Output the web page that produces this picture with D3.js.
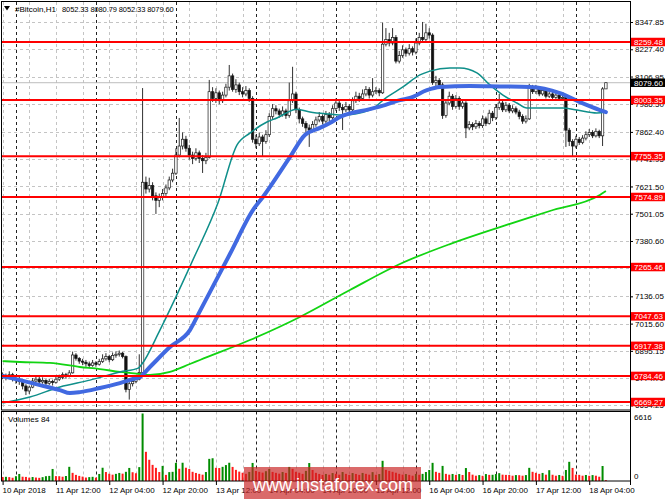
<!DOCTYPE html>
<html><head><meta charset="utf-8">
<script src="https://cdn.jsdelivr.net/npm/d3@7"></script>
<style>
html,body{margin:0;padding:0;background:#fff;}
svg{display:block;font-family:"Liberation Sans",Arial,sans-serif;}
</style></head><body>
<svg id="c" width="665" height="499"></svg>
<script>
// ---- DATA (Bitcoin H1, bars from 10 Apr 2018 20:00) ----
const opens = [6790,6785,6778,6790,6772,6768,6760,6740,6718,6735,
 6762,6770,6758,6765,6752,6760,6755,6770,6778,6790,
 6782,6798,6877,6862,6850,6845,6838,6830,6842,6836,
 6848,6860,6870,6856,6875,6880,6885,6870,6725,6750,
 6760,6770,6800,7640,7610,7625,7580,7560,7575,7590,
 7615,7650,7680,7760,7800,7830,7790,7760,7745,7770,
 7745,7735,7750,8040,8010,8035,8000,8025,8060,8110,
 8050,8070,8040,8030,8045,8010,7830,7810,7840,7820,
 7850,7930,7965,7955,7940,7955,7935,8000,8030,7960,
 7920,7900,7880,7870,7895,7915,7930,7910,7940,7925,
 7965,7990,7970,7960,7975,7960,8000,8020,8010,8030,
 8050,8025,8040,8045,8035,8250,8270,8255,8280,8175,
 8200,8225,8210,8230,8215,8255,8280,8270,8300,8290,
 8080,8090,8070,7935,7990,8020,7975,8010,7975,7990,
 7880,7895,7885,7900,7890,7920,7900,7945,7925,7970,
 7990,7960,7980,7955,7965,7950,7930,7910,7920,8060,
 8040,8055,8030,8045,8020,8030,8015,8025,8010,8015,
 7870,7820,7800,7830,7815,7835,7850,7860,7845,7865,
 7845,8052.33];
const highs = [6800,6795,6805,6798,6785,6780,6765,6748,6742,6775,
 6785,6780,6778,6770,6772,6768,6782,6790,6800,6798,
 6810,6892,6885,6868,6860,6855,6848,6855,6850,6860,
 6880,6885,6878,6888,6893,6897,6890,6875,6760,6772,
 6785,6880,8056,7665,7660,7640,7595,7590,7610,7630,
 7665,7700,7790,7924,7860,7845,7805,7775,7790,7780,
 7760,7770,8092,8060,8055,8045,8040,8075,8158,8120,
 8095,8080,8060,8065,8055,8020,7850,7860,7850,7870,
 7945,7985,7980,7965,7975,7965,8080,8150,8040,7970,
 7930,7910,7895,7910,7930,7950,7940,7955,7950,7980,
 8010,8000,7985,7995,7985,8015,8040,8035,8050,8065,
 8060,8100,8060,8055,8345,8321,8300,8321,8290,8220,
 8245,8235,8250,8240,8275,8300,8348,8340,8320,8298,
 8110,8100,8080,8005,8040,8030,8025,8020,8005,7998,
 7910,7905,7915,7910,7935,7930,7960,7955,7985,8030,
 8000,7995,7990,7980,7975,7960,7940,7935,8075,8070,
 8070,8062,8060,8052,8045,8040,8038,8032,8030,8020,
 7880,7830,7845,7840,7848,7865,7875,7870,7878,7872,
 8060,8080.79];
const lows = [6770,6765,6770,6760,6750,6745,6725,6700,6705,6730,
 6755,6745,6750,6740,6745,6742,6750,6762,6770,6772,
 6778,6795,6852,6838,6832,6825,6818,6825,6825,6830,
 6842,6852,6845,6850,6865,6870,6862,6712,6680,6738,
 6752,6765,6790,7590,7595,7560,7500,7530,7560,7580,
 7605,7640,7672,7750,7785,7775,7740,7720,7735,7725,
 7681,7720,7745,7995,7990,7985,7990,8015,8045,8040,
 8035,8025,8015,8020,7995,7815,7790,7800,7752,7810,
 7840,7920,7940,7925,7930,7920,7925,7990,7945,7900,
 7885,7860,7796,7860,7885,7905,7895,7900,7910,7915,
 7955,7955,7871,7950,7945,7950,7990,7995,8000,8020,
 8010,8015,8030,8020,8030,8240,8240,8245,8165,8165,
 8190,8195,8200,8200,8205,8245,8260,8262,8275,8070,
 8065,8055,7920,7925,7980,7960,7965,7960,7965,7835,
 7870,7870,7875,7878,7880,7888,7895,7910,7915,7960,
 7950,7950,7945,7945,7940,7918,7898,7900,7915,8030,
 8030,8020,8022,8010,8012,8005,8008,8000,8000,7796,
 7800,7752,7790,7805,7808,7825,7840,7835,7838,7835,
 7800,8052.33];
const closes = [6785,6778,6790,6772,6768,6760,6740,6718,6735,6762,
 6770,6758,6765,6752,6760,6755,6770,6778,6790,6782,
 6798,6877,6862,6850,6845,6838,6830,6842,6836,6848,
 6860,6870,6856,6875,6880,6885,6870,6725,6750,6760,
 6770,6800,7640,7610,7625,7580,7560,7575,7590,7615,
 7650,7680,7760,7800,7830,7790,7760,7745,7770,7745,
 7735,7750,8040,8010,8035,8000,8025,8060,8110,8050,
 8070,8040,8030,8045,8010,7830,7810,7840,7820,7850,
 7930,7965,7955,7940,7955,7935,8000,8030,7960,7920,
 7900,7880,7870,7895,7915,7930,7910,7940,7925,7965,
 7990,7970,7960,7975,7960,8000,8020,8010,8030,8050,
 8025,8040,8045,8035,8250,8270,8255,8280,8175,8200,
 8225,8210,8230,8215,8255,8280,8270,8300,8290,8080,
 8090,8070,7935,7990,8020,7975,8010,7975,7990,7880,
 7895,7885,7900,7890,7920,7900,7945,7925,7970,7990,
 7960,7980,7955,7965,7950,7930,7910,7920,8060,8040,
 8055,8030,8045,8020,8030,8015,8025,8010,8015,7870,
 7820,7800,7830,7815,7835,7850,7860,7845,7865,7845,
 8052.33,8079.60];
const volumes = [395,410,380,320,470,690,420,400,330,390,
 340,310,380,470,500,1180,480,470,420,490,
 1390,800,600,500,430,340,380,410,330,690,
 1300,880,710,620,700,790,720,900,1280,860,
 760,1360,6616,2860,2080,1580,1290,880,1480,600,
 870,900,1780,1200,1790,1300,1180,900,790,700,
 620,880,2170,2230,1290,1270,1390,1560,1790,1380,
 1090,920,810,700,890,1770,980,900,820,960,
 1180,890,800,720,880,790,1380,1190,900,810,
 700,990,1760,1080,800,690,600,690,610,780,
 700,620,880,700,590,780,690,600,790,700,
 620,870,610,680,1980,1090,990,900,810,700,
 620,680,600,520,690,610,700,880,1080,1780,
 900,800,1480,700,620,690,600,680,590,1270,
 880,620,520,580,510,680,600,610,680,770,
 620,600,590,520,580,570,520,580,1290,900,
 800,700,790,620,1060,610,520,590,510,1080,
 1880,1280,620,600,520,590,510,580,520,420,
 1470,84];

// moving averages: [bar index, price]
const maBlue = [[0,6784],[5.2,6766],[11.2,6744],[17.2,6722],[20.2,6709],[23.2,6713],[29.2,6731],[35.2,6753],[39.1,6771],[41.2,6780],[44.2,6824],[50.2,6912],[56.2,6987],[59.2,7071],[68.2,7323],[75.1,7517],[78.1,7575],[86.2,7751],[90.7,7849],[95.2,7880],[98.2,7902],[101.2,7928],[110.2,7963],[114.7,7981],[119.2,8003],[122.2,8012],[127.3,8047],[131.2,8061],[140.2,8065],[149.2,8063],[158.2,8061],[167.2,8034],[173.2,7994],[179.2,7959],[181,7950]];
const maTeal = [[0,6665],[8.2,6691],[17.2,6736],[26.2,6766],[35.2,6802],[40.7,6819],[41.8,6837],[47.2,6987],[57.1,7297],[64.6,7548],[70.3,7804],[74.2,7857],[79.3,7906],[82.3,7924],[88.3,7963],[92.2,7950],[98.2,7941],[102.1,7937],[110.2,7959],[115.3,8016],[120.1,8061],[125.2,8114],[128.2,8131],[134.2,8145],[137.2,8145],[142.3,8123],[146.2,8070],[150.1,8025],[154.3,7990],[157.3,7968],[160.3,7968],[168.1,7968],[172.3,7959],[178.3,7946],[181,7950]];
const maGreen = [[0,6850],[5.2,6846],[14.2,6842],[23.2,6824],[29.2,6815],[35.2,6802],[41.2,6793],[44.2,6789],[50.2,6802],[56.2,6837],[59.2,6855],[74.2,6943],[89.2,7045],[104.2,7164],[119.2,7279],[134.2,7367],[149.2,7442],[164.2,7513],[179.2,7584],[181,7601]];

const levels = [8259.48, 8003.35, 7755.35, 7574.89, 7265.46, 7047.63, 6917.38, 6784.46, 6669.27];
const priceTicks = [8347.85, 8227.40, 8106.95, 7986.50, 7862.40, 7741.95, 7621.50, 7501.05, 7380.60, 7260.15, 7136.05, 7015.60, 6895.15, 6774.70, 6654.25];
const lastPrice = 8079.60;
const xLabelBars = [0,16,32,48,64,80,96,112,128,144,160,176];
const xLabels = ["10 Apr 2018","11 Apr 12:00","12 Apr 04:00","12 Apr 20:00","13 Apr 12:00","14 Apr 04:00","14 Apr 20:00","15 Apr 12:00","16 Apr 04:00","16 Apr 20:00","17 Apr 12:00","18 Apr 04:00"];
const gridBars = d3.range(0, 182, 8);
const separatorBars = [4,28,52,76,100,124,148,172];
const titleText = "#Bitcoin,H1";
const titleValues = "8052.33 8080.79 8052.33 8079.60";
const volMax = 6616;

// ---- LAYOUT ----
const L = 2, R = 630, T = 2, MB = 409.5, VT = 411.5, VB = 481;
const svg = d3.select('#c');
const x = d3.scaleLinear().domain([0, 181]).range([2.6, 605.9]);
const y = d3.scaleLinear().domain([6638.4, 8436.2]).range([409, 2]);
const yv = d3.scaleLinear().domain([0, volMax]).range([VB, VT + 2]);

const defs = svg.append('defs');
defs.append('clipPath').attr('id','cm').append('rect').attr('x',L).attr('y',T).attr('width',R-L).attr('height',MB-T);
defs.append('clipPath').attr('id','cv').append('rect').attr('x',L).attr('y',VT).attr('width',R-L).attr('height',VB-VT);

const gm = svg.append('g').attr('clip-path','url(#cm)');
const gv = svg.append('g').attr('clip-path','url(#cv)');

// horizontal grid
gm.selectAll('.hg').data(priceTicks).enter().append('line')
  .attr('x1',L).attr('x2',R).attr('y1',d=>Math.round(y(d))+0.5).attr('y2',d=>Math.round(y(d))+0.5)
  .attr('stroke','#c4c4c4').attr('stroke-dasharray','3,3').attr('stroke-width',1);
// vertical grid + day separators
[[gm,T,MB],[gv,VT,VB]].forEach(([g,a,b])=>{
  g.selectAll('.vg').data(gridBars).enter().append('line')
    .attr('x1',d=>Math.round(x(d))+0.5).attr('x2',d=>Math.round(x(d))+0.5).attr('y1',a).attr('y2',b)
    .attr('stroke','#c4c4c4').attr('stroke-dasharray','3,3');
  g.selectAll('.sp').data(separatorBars).enter().append('line')
    .attr('x1',d=>Math.round(x(d))+0.5).attr('x2',d=>Math.round(x(d))+0.5).attr('y1',a).attr('y2',b)
    .attr('stroke','#222').attr('stroke-dasharray','3,3');
});
// last price line
gm.append('line').attr('x1',L).attr('x2',R).attr('y1',y(lastPrice)).attr('y2',y(lastPrice))
  .attr('stroke','#bdbdbd').attr('stroke-width',1);

// candles
const idx = d3.range(closes.length);
gm.selectAll('.wick').data(idx).enter().append('line')
  .attr('x1',i=>x(i)).attr('x2',i=>x(i)).attr('y1',i=>y(highs[i])).attr('y2',i=>y(lows[i]))
  .attr('stroke','#1a1a1a').attr('stroke-width',0.9);
const bw = 2.4;
gm.selectAll('.body').data(idx).enter().append('rect')
  .attr('x',i=>x(i)-bw/2).attr('width',bw)
  .attr('y',i=>y(Math.max(opens[i],closes[i])))
  .attr('height',i=>Math.max(0.8, Math.abs(y(opens[i])-y(closes[i]))))
  .attr('fill',i=>closes[i]>=opens[i]?'#fff':'#111')
  .attr('stroke','#1a1a1a').attr('stroke-width',0.7);

// moving averages
const line = d3.line().x(d=>x(d[0])).y(d=>y(d[1])).curve(d3.curveMonotoneX);
gm.append('path').datum(maGreen).attr('d',line).attr('fill','none').attr('stroke','#12d412').attr('stroke-width',1.8);
gm.append('path').datum(maTeal).attr('d',line).attr('fill','none').attr('stroke','#0f8f8a').attr('stroke-width',1.5);
gm.append('path').datum(maBlue).attr('d',line).attr('fill','none').attr('stroke','#4169e1').attr('stroke-width',4).attr('stroke-linecap','round');

// level lines
gm.selectAll('.lvl').data(levels).enter().append('line')
  .attr('x1',L).attr('x2',R).attr('y1',d=>y(d)).attr('y2',d=>y(d))
  .attr('stroke','#ff0000').attr('stroke-width',2);

// volumes
gv.selectAll('.vb').data(idx).enter().append('rect')
  .attr('x',i=>x(i)-1).attr('width',2)
  .attr('y',i=>yv(volumes[i])).attr('height',i=>VB-yv(volumes[i]))
  .attr('fill',i=> (i>0 && volumes[i]>volumes[i-1]) ? '#008c00' : '#ff1a1a');

// frames
svg.append('rect').attr('x',L-0.5).attr('y',T-0.5).attr('width',R-L+1).attr('height',MB-T+1).attr('fill','none').attr('stroke','#000');
svg.append('rect').attr('x',L-0.5).attr('y',VT).attr('width',R-L+1).attr('height',VB-VT).attr('fill','none').attr('stroke','#000');

// right price axis
const ax = svg.append('g').attr('transform',`translate(${R},0)`)
  .call(d3.axisRight(y).tickValues(priceTicks).tickSize(3).tickPadding(2).tickFormat(d3.format('.2f')));
ax.select('.domain').remove();
ax.selectAll('text').attr('font-size',8).attr('font-family','"Liberation Sans",Arial,sans-serif').attr('fill','#000');
ax.selectAll('line').attr('stroke','#000');

// level labels
const lg = svg.append('g');
const boxH = 8.5;
levels.forEach(v=>{
  lg.append('rect').attr('x',R+1).attr('y',y(v)-boxH/2).attr('width',665-R-1).attr('height',boxH).attr('fill','#ff0000');
  lg.append('text').attr('x',R+4).attr('y',y(v)+3).attr('font-size',8).attr('fill','#fff').text(d3.format('.2f')(v));
});
lg.append('rect').attr('x',R+1).attr('y',y(lastPrice)-boxH/2).attr('width',665-R-1).attr('height',boxH).attr('fill','#000');
lg.append('text').attr('x',R+4).attr('y',y(lastPrice)+3).attr('font-size',8).attr('fill','#fff').text(d3.format('.2f')(lastPrice));

// volume axis labels
svg.append('text').attr('x',R+4).attr('y',420).attr('font-size',8).text(String(volMax));
svg.append('text').attr('x',R+4).attr('y',479).attr('font-size',8).text('0');
svg.append('text').attr('x',8).attr('y',422).attr('font-size',8).text('Volumes ' + volumes[volumes.length-1]);

// bottom axis
const bx = svg.append('g').attr('transform',`translate(0,${VB})`)
  .call(d3.axisBottom(x).tickValues(xLabelBars).tickSize(4).tickPadding(2).tickFormat((d,i)=>xLabels[i]));
bx.select('.domain').remove();
bx.selectAll('text').attr('text-anchor','start').attr('dx','-0.5').attr('font-size',8).attr('font-family','"Liberation Sans",Arial,sans-serif').attr('fill','#000');
bx.selectAll('line').attr('stroke','#000');

// right axis vertical line
svg.append('line').attr('x1',R+0.5).attr('x2',R+0.5).attr('y1',T).attr('y2',VB+4).attr('stroke','#000');

// title
svg.append('path').attr('d','M4,6 L10,6 L7,10.5 Z').attr('fill','#000');
svg.append('text').attr('x',15).attr('y',12).attr('font-size',8).text(titleText);
svg.append('text').attr('x',62).attr('y',12).attr('font-size',7.5).attr('letter-spacing',-0.1).text(titleValues);

// watermark
svg.append('rect').attr('x',244).attr('y',467).attr('width',177).attr('height',32).attr('fill','rgba(200,35,35,0.68)');
svg.append('text').attr('x',253).attr('y',491).attr('font-size',18).attr('fill','#fff').text('www.instaforex.com');
</script>
</body></html>
